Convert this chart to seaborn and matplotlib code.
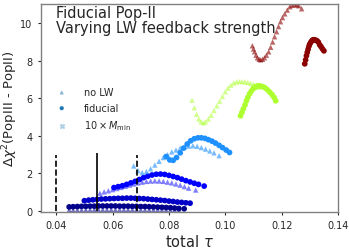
import matplotlib
matplotlib.use("Agg")
import matplotlib.pyplot as plt
import seaborn as sns
import numpy as np

sns.set_style("ticks")
plt.rcParams['font.family'] = ['DejaVu Sans']
plt.rcParams['mathtext.fontset'] = 'dejavusans'

# --- data ---
# darkest blue: bottom rows
tau_navy_fid = [0.0446, 0.046, 0.0475, 0.049, 0.0505, 0.052, 0.0535, 0.055, 0.0565, 0.058,
                0.0595, 0.061, 0.0625, 0.064, 0.0655, 0.067, 0.0685, 0.07, 0.0715, 0.073,
                0.0745, 0.076, 0.0775, 0.079, 0.0805, 0.082, 0.0835, 0.0854]
chi_navy_fid = [0.22, 0.23, 0.24, 0.25, 0.25, 0.26, 0.26, 0.27, 0.27, 0.27,
                0.27, 0.27, 0.26, 0.26, 0.26, 0.25, 0.25, 0.24, 0.24, 0.23,
                0.22, 0.21, 0.2, 0.19, 0.18, 0.16, 0.14, 0.12]
tau_navy_nolw = [0.0446, 0.046, 0.0475, 0.049, 0.0505, 0.052, 0.0535, 0.055, 0.0565, 0.058,
                 0.0595, 0.061, 0.0625, 0.064, 0.0655, 0.067, 0.0685, 0.07, 0.0715, 0.073,
                 0.0745, 0.076, 0.0775, 0.079, 0.0805, 0.082, 0.0836]
chi_navy_nolw = [0.05, 0.05, 0.06, 0.06, 0.06, 0.07, 0.07, 0.07, 0.07, 0.07,
                 0.07, 0.07, 0.07, 0.07, 0.07, 0.07, 0.07, 0.06, 0.06, 0.06,
                 0.06, 0.06, 0.05, 0.05, 0.05, 0.05, 0.04]

# medium blue: row near 0.6
tau_mblue_fid = [0.050, 0.0515, 0.053, 0.0545, 0.056, 0.0575, 0.059, 0.0605, 0.062, 0.0635,
                 0.065, 0.0665, 0.068, 0.0695, 0.071, 0.0725, 0.074, 0.0755, 0.077, 0.0785,
                 0.080, 0.0815, 0.083, 0.0845, 0.086, 0.0875]
chi_mblue_fid = [0.55, 0.58, 0.6, 0.62, 0.64, 0.65, 0.66, 0.67, 0.68, 0.68,
                 0.69, 0.69, 0.68, 0.67, 0.66, 0.64, 0.62, 0.6, 0.58, 0.56,
                 0.53, 0.51, 0.48, 0.46, 0.44, 0.42]

# blue: curve peaking near 2
tau_blue_fid = [0.0605, 0.062, 0.0635, 0.065, 0.0665, 0.068, 0.0695, 0.071, 0.0725, 0.074,
                0.0755, 0.077, 0.0785, 0.080, 0.0815, 0.083, 0.0845, 0.086, 0.0875, 0.089,
                0.0905, 0.0925]
chi_blue_fid = [1.25, 1.3, 1.35, 1.42, 1.5, 1.58, 1.68, 1.78, 1.86, 1.92,
                1.96, 1.97, 1.95, 1.9, 1.84, 1.78, 1.7, 1.62, 1.55, 1.48,
                1.42, 1.33]
tau_blue_nolw = [0.0555, 0.057, 0.0585, 0.060, 0.0615, 0.063, 0.0645, 0.066, 0.0675, 0.069,
                 0.0705, 0.072, 0.0735, 0.075, 0.0765, 0.078, 0.0795, 0.081, 0.0825, 0.084,
                 0.0855, 0.087, 0.0895]
chi_blue_nolw = [0.95, 1.02, 1.08, 1.14, 1.2, 1.26, 1.32, 1.38, 1.44, 1.5,
                 1.54, 1.58, 1.6, 1.61, 1.6, 1.58, 1.54, 1.5, 1.44, 1.38,
                 1.3, 1.22, 1.12]

# dodger blue: curve peaking near 3.9
tau_dodger_fid = [0.079, 0.0803, 0.0815, 0.0827, 0.084, 0.0852, 0.0865, 0.0877, 0.089, 0.0903,
                  0.0915, 0.0928, 0.094, 0.0953, 0.0965, 0.0978, 0.099, 0.1003, 0.1015]
chi_dodger_fid = [2.9, 2.72, 2.7, 2.85, 3.1, 3.35, 3.57, 3.74, 3.85, 3.9,
                  3.9, 3.87, 3.8, 3.72, 3.62, 3.5, 3.38, 3.25, 3.12]
tau_dodger_nolw = [0.0675, 0.069, 0.0705, 0.072, 0.0735, 0.075, 0.0765, 0.078, 0.0795, 0.081,
                   0.0825, 0.084, 0.0855, 0.087, 0.0885, 0.090, 0.0915, 0.093, 0.0945, 0.096,
                   0.0978]
chi_dodger_nolw = [2.4, 2.15, 2.05, 2.1, 2.25, 2.45, 2.65, 2.85, 3.0, 3.15,
                   3.25, 3.35, 3.42, 3.46, 3.48, 3.45, 3.38, 3.3, 3.2, 3.1,
                   2.95]

# green-yellow: curve peaking near 6.7
tau_green_fid = [0.1054, 0.1059, 0.1064, 0.107, 0.1075, 0.108, 0.1086, 0.1092, 0.1098, 0.1104,
                 0.111, 0.1118, 0.1126, 0.1134, 0.1142, 0.115, 0.1158, 0.1166, 0.1173, 0.1179]
chi_green_fid = [5.07, 5.25, 5.44, 5.65, 5.87, 6.05, 6.24, 6.38, 6.5, 6.58,
                 6.64, 6.67, 6.65, 6.62, 6.55, 6.45, 6.33, 6.2, 6.05, 5.87]
tau_green_nolw = [0.0882, 0.089, 0.0898, 0.0906, 0.0914, 0.0922, 0.093, 0.094, 0.095, 0.096,
                  0.097, 0.098, 0.099, 0.100, 0.101, 0.102, 0.103, 0.104, 0.105, 0.106,
                  0.107, 0.108, 0.109, 0.110, 0.111, 0.112]
chi_green_nolw = [5.9, 5.5, 5.15, 4.9, 4.75, 4.7, 4.75, 4.9, 5.1, 5.35,
                  5.6, 5.85, 6.1, 6.35, 6.55, 6.7, 6.82, 6.88, 6.9, 6.9,
                  6.88, 6.85, 6.8, 6.75, 6.68, 6.6]

# dark red: top curves
tau_red_fid = [0.1282, 0.1285, 0.1288, 0.1291, 0.1294, 0.1297, 0.13, 0.1304, 0.1308, 0.1312,
               0.1316, 0.132, 0.1325, 0.133, 0.1335, 0.134, 0.1345, 0.135]
chi_red_fid = [7.84, 8.05, 8.27, 8.45, 8.62, 8.78, 8.9, 9.0, 9.08, 9.12,
               9.12, 9.1, 9.07, 9.0, 8.85, 8.75, 8.63, 8.53]
tau_red_nolw = [0.1096, 0.11, 0.1104, 0.1109, 0.1114, 0.112, 0.1125, 0.1132, 0.1139, 0.1146,
                0.1154, 0.1161, 0.1168, 0.1175, 0.1182, 0.1189, 0.1196, 0.1203, 0.1211, 0.122,
                0.1229, 0.1237, 0.1246, 0.1254, 0.1261, 0.1271]
chi_red_nolw = [8.8, 8.63, 8.48, 8.3, 8.16, 8.08, 8.05, 8.08, 8.16, 8.3,
                8.48, 8.72, 9.0, 9.28, 9.55, 9.82, 10.08, 10.3, 10.5, 10.7,
                10.88, 10.95, 10.99, 10.97, 10.93, 10.77]

vline_dashed = [0.04, 0.0686]
vline_solid = [0.0543]

series = [
    (tau_navy_nolw, chi_navy_nolw, '#00008b', '^', 0.55),
    (tau_navy_fid, chi_navy_fid, '#00008b', 'o', 1.0),
    (tau_mblue_fid, chi_mblue_fid, '#0000c8', 'o', 1.0),
    (tau_blue_nolw, chi_blue_nolw, '#0000ff', '^', 0.5),
    (tau_blue_fid, chi_blue_fid, '#0000ff', 'o', 1.0),
    (tau_dodger_nolw, chi_dodger_nolw, '#1e90ff', '^', 0.6),
    (tau_dodger_fid, chi_dodger_fid, '#1e90ff', 'o', 1.0),
    (tau_green_nolw, chi_green_nolw, '#adff2f', '^', 0.55),
    (tau_green_fid, chi_green_fid, '#adff2f', 'o', 1.0),
    (tau_red_nolw, chi_red_nolw, '#8b0000', '^', 0.6),
    (tau_red_fid, chi_red_fid, '#8b0000', 'o', 1.0),
]

fig = plt.figure(figsize=(3.49, 2.51), dpi=100)
ax = fig.add_axes([0.1175, 0.1514, 0.851, 0.8306])

for x, y, c, m, a in series:
    size = 17 if m == 'o' else 15
    sns.scatterplot(x=x, y=y, color=c, marker=m, s=size, alpha=a,
                    edgecolor='none', linewidth=0, ax=ax, legend=False)

ax.vlines(vline_dashed, 0, 3, colors='black', linestyles='--', linewidth=1.2)
ax.vlines(vline_solid, 0, 3.1, colors='black', linestyles='-', linewidth=1.2)

# legend proxies
h1 = ax.scatter([], [], marker='^', s=9, color='#1f77b4', alpha=0.55, edgecolor='none')
h2 = ax.scatter([], [], marker='o', s=9, color='#1f77b4', alpha=1.0, edgecolor='none')
h3 = ax.scatter([], [], marker='x', s=9, color='#1f77b4', alpha=0.35)
ax.legend([h1, h2, h3], ['no LW', 'fiducial', r'$10\times M_{\rm min}$'],
          loc='upper left', bbox_to_anchor=(0.037, 0.6), frameon=False,
          fontsize=7, borderpad=0, borderaxespad=0, labelspacing=0.6,
          handletextpad=1.3)

ax.text(0.05, 0.995, 'Fiducial Pop-II\nVarying LW feedback strength',
        transform=ax.transAxes, ha='left', va='top', fontsize=10.5, linespacing=1.0)

ax.set_xlim(0.0346, 0.14)
ax.set_ylim(-0.05, 11.05)
ax.set_xticks([0.04, 0.06, 0.08, 0.10, 0.12, 0.14])
ax.set_xticklabels(['0.04', '0.06', '0.08', '0.10', '0.12', '0.14'])
ax.set_yticks([0, 2, 4, 6, 8, 10])
ax.tick_params(labelsize=7, length=2.5, width=0.8)
ax.set_xlabel(r'total $\tau$', fontsize=10.5, labelpad=2)
ax.set_ylabel(r'$\Delta\chi^2$(PopIII - PopII)', fontsize=9.5, labelpad=0)
for sp in ax.spines.values():
    sp.set_visible(True)
    sp.set_color('0.5')
    sp.set_linewidth(1.0)

fig.savefig('out.png', dpi=100)
